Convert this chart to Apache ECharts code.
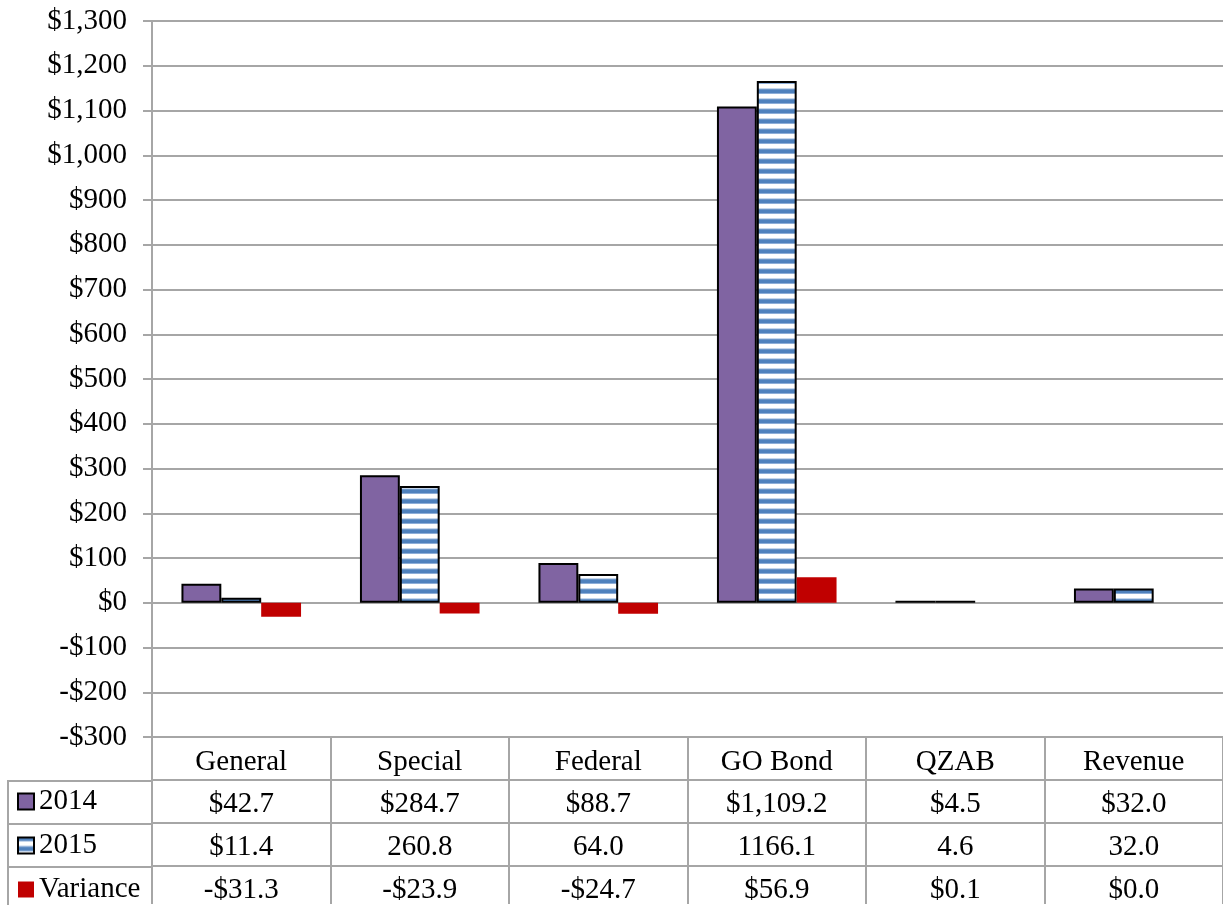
<!DOCTYPE html>
<html>
<head>
<meta charset="utf-8">
<style>
  html, body { margin: 0; padding: 0; background: #fff; }
  #chart { width: 1223px; height: 905px; }
</style>
<script src="https://cdn.jsdelivr.net/npm/echarts@6/dist/echarts.min.js"></script>
</head>
<body>
<div id="chart"></div>
<script>
const categories = ['General', 'Special', 'Federal', 'GO Bond', 'QZAB', 'Revenue'];
const values2014 = [42.7, 284.7, 88.7, 1109.2, 4.5, 32.0];
const values2015 = [11.4, 260.8, 64.0, 1166.1, 4.6, 32.0];
const valuesVariance = [-31.3, -23.9, -24.7, 56.9, 0.1, 0.0];
const table2014 = ['$42.7', '$284.7', '$88.7', '$1,109.2', '$4.5', '$32.0'];
const table2015 = ['$11.4', '260.8', '64.0', '1166.1', '4.6', '32.0'];
const tableVariance = ['-$31.3', '-$23.9', '-$24.7', '$56.9', '$0.1', '$0.0'];
const seriesNames = ['2014', '2015', 'Variance'];

const FONT = 'Liberation Serif';
const FS = 29;
const GRID_COLOR = '#a6a6a6';

// striped pattern for 2015
const pc = document.createElement('canvas');
pc.width = 10; pc.height = 10;
const pctx = pc.getContext('2d');
const rows = ['#4f81bd','#4f81bd','#4f81bd','#8eaed8','#ffffff','#ffffff','#ffffff','#ffffff','#c5d6ec','#6b95c8'];
rows.forEach((c, i) => { pctx.fillStyle = c; pctx.fillRect(0, i, 10, 1); });
const stripe = { image: pc, repeat: 'repeat' };

function fmtY(v) {
  const a = Math.abs(v).toLocaleString('en-US');
  return (v < 0 ? '-$' : '$') + a;
}

const chart = echarts.init(document.getElementById('chart'));
const rowH = 43;
const labelStyle = { fontFamily: FONT, fontSize: FS, color: '#000' };

function tableAxis(data, idx) {
  return {
    type: 'category', data: data, position: 'bottom', gridIndex: 0,
    offset: rowH * idx,
    axisLine: { show: true, onZero: false, lineStyle: { color: GRID_COLOR, width: 2 } },
    axisTick: { show: false },
    axisLabel: Object.assign({ interval: 0, margin: 10 }, labelStyle),
    splitLine: { show: false }
  };
}

chart.setOption({
  animation: false,
  backgroundColor: '#fff',
  grid: { left: 152, right: 0, top: 21, bottom: 167, containLabel: false },
  legend: {
    orient: 'vertical', left: 17, top: 787, padding: 0,
    itemWidth: 16, itemHeight: 16, itemGap: 15,
    icon: 'rect',
    data: seriesNames,
    textStyle: { fontFamily: FONT, fontSize: FS, color: '#000', lineHeight: 28 },
    selectedMode: false
  },
  xAxis: [
    {
      type: 'category', data: categories, position: 'bottom',
      axisLine: { show: true, onZero: false, lineStyle: { color: GRID_COLOR, width: 2 } },
      axisTick: { show: true, interval: 0, length: 167, lineStyle: { color: GRID_COLOR, width: 2 } },
      axisLabel: Object.assign({ interval: 0, margin: 11 }, labelStyle),
      splitLine: { show: false }
    },
    tableAxis(table2014, 1),
    tableAxis(table2015, 2),
    tableAxis(tableVariance, 3)
  ],
  yAxis: {
    type: 'value', min: -300, max: 1300, interval: 100,
    axisLine: { show: true, lineStyle: { color: GRID_COLOR, width: 2 } },
    axisTick: { show: true, length: 9, lineStyle: { color: GRID_COLOR, width: 2 } },
    axisLabel: Object.assign({ margin: 25, formatter: fmtY }, labelStyle),
    splitLine: { show: true, lineStyle: { color: GRID_COLOR, width: 2 } }
  },
  series: [
    { name: seriesNames[0], type: 'bar', data: values2014, barGap: '0%', barCategoryGap: '33%',
      itemStyle: { color: '#8064a2', borderColor: '#000', borderWidth: 2 } },
    { name: seriesNames[1], type: 'bar', data: values2015, barGap: '0%', barCategoryGap: '33%',
      itemStyle: { color: stripe, borderColor: '#000', borderWidth: 2 } },
    { name: seriesNames[2], type: 'bar', data: valuesVariance, barGap: '0%', barCategoryGap: '33%',
      itemStyle: { color: '#c00000' } }
  ],
  graphic: [
    { type: 'polyline', shape: { points: [[152, 781], [8, 781], [8, 905]] }, style: { stroke: GRID_COLOR, lineWidth: 2, fill: null } },
    { type: 'line', shape: { x1: 8, y1: 824, x2: 152, y2: 824 }, style: { stroke: GRID_COLOR, lineWidth: 2 } },
    { type: 'line', shape: { x1: 8, y1: 867, x2: 152, y2: 867 }, style: { stroke: GRID_COLOR, lineWidth: 2 } }
  ]
});
</script>
</body>
</html>
